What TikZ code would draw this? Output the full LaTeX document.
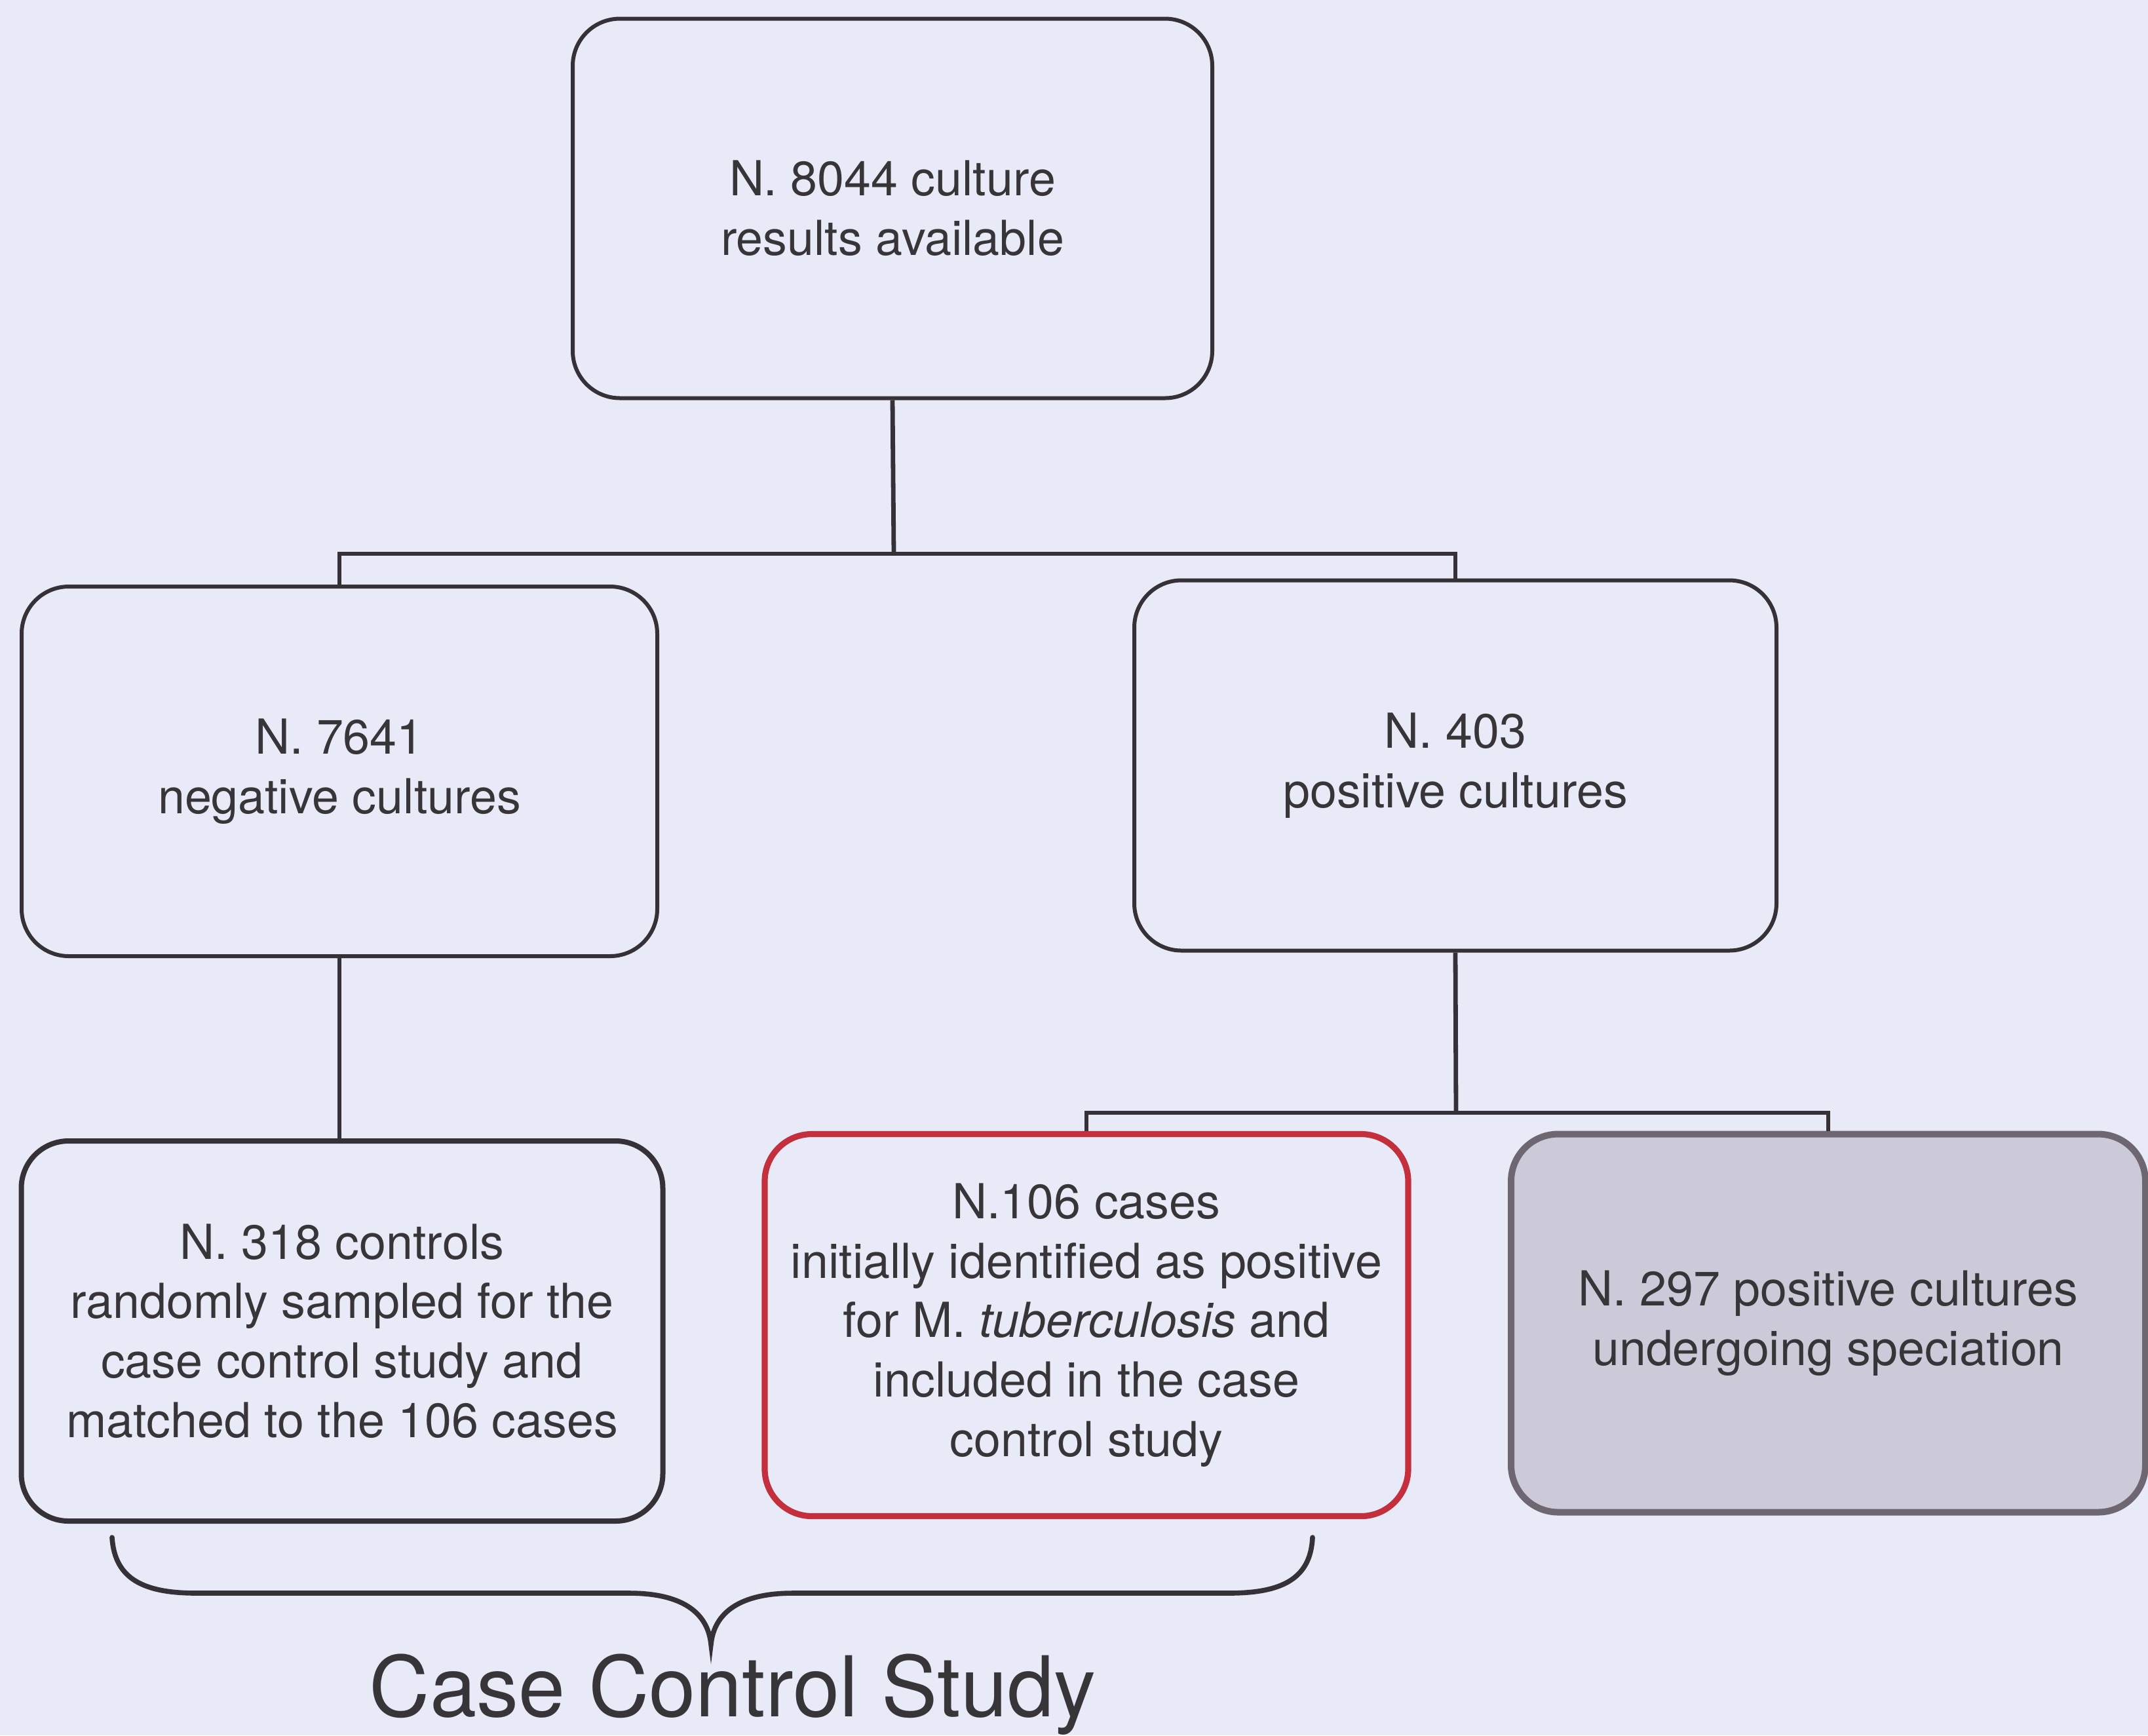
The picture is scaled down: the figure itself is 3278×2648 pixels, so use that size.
\documentclass[tikz,border=0pt]{standalone}
\usepackage{fontspec}
\setmainfont{TeX Gyre Heros}
\definecolor{bgc}{HTML}{E8EAF7}
\definecolor{ink}{HTML}{383539}
\definecolor{linec}{HTML}{353137}
\definecolor{redc}{HTML}{C42F3D}
\definecolor{grayfill}{HTML}{CCCAD8}
\definecolor{grayline}{HTML}{6E6670}
\tikzset{
  box/.style={draw=linec, line width=1.5pt, rounded corners=18pt, align=center,
    text=ink, font=\fontsize{18.4}{22.7}\selectfont, inner sep=0pt},
  thickbox/.style={box, line width=2pt},
  redbox/.style={box, draw=redc, line width=2.3pt},
  graybox/.style={box, draw=grayline, fill=grayfill, line width=2.5pt},
  conn/.style={draw=linec, line width=1.7pt},
  bracestyle/.style={draw=linec, line width=1.9pt, line cap=round}
}
\begin{document}
\begin{tikzpicture}[x=0.25pt,y=-0.25pt]
\fill[bgc] (0,0) rectangle (3278,2648);
\useasboundingbox (0,0) rectangle (3278,2648);

\node[box, minimum width=244pt, minimum height=144.75pt] (top) at (1362,318) {N. 8044 culture\\results available};
\node[box, minimum width=242.5pt, minimum height=141pt] (neg) at (518,1177) {N. 7641\\negative cultures};
\node[box, minimum width=245pt, minimum height=141.25pt] (pos) at (2221,1168) {N. 403\\positive cultures};
\node[thickbox, minimum width=244.75pt, minimum height=145pt] (ctrl) at (522,2031) {N. 318 controls\\randomly sampled for the\\case control study and\\matched to the 106 cases};
\node[redbox, minimum width=245.5pt, minimum height=145.75pt] (cases) at (1658,2022) {N.106 cases\\initially identified as positive\\for M. \textit{tuberculosis} and\\included in the case\\control study};
\node[graybox, minimum width=242pt, minimum height=144.25pt] (spec) at (2790,2019) {N. 297 positive cultures\\undergoing speciation};

\coordinate (j1) at (1364,845);
\coordinate (j2) at (2222,1698);

\draw[conn] (top.south) -- (j1);
\draw[conn] (neg.north) |- (j1) -| (pos.north);
\draw[conn] (neg.south) -- (ctrl.north -| neg.south);
\draw[conn] (pos.south) -- (j2);
\draw[conn] (cases.north) |- (j2) -| (spec.north);

\coordinate (bl) at (171,2346);
\coordinate (br) at (2003,2346);
\coordinate (tip) at (1085,2509);
\draw[bracestyle] (bl) .. controls (175,2410) and (220,2431) .. (300,2431)
  -- (960,2431) .. controls (1040,2431) and (1080,2460) .. (tip)
  .. controls (1090,2460) and (1130,2431) .. (1210,2431)
  -- (1875,2431) .. controls (1955,2431) and (2000,2410) .. (br);

\node[text=ink, font=\fontsize{32}{38}\selectfont, inner sep=0pt] (label) at (1118,2586) {Case Control Study};
\end{tikzpicture}
\end{document}
